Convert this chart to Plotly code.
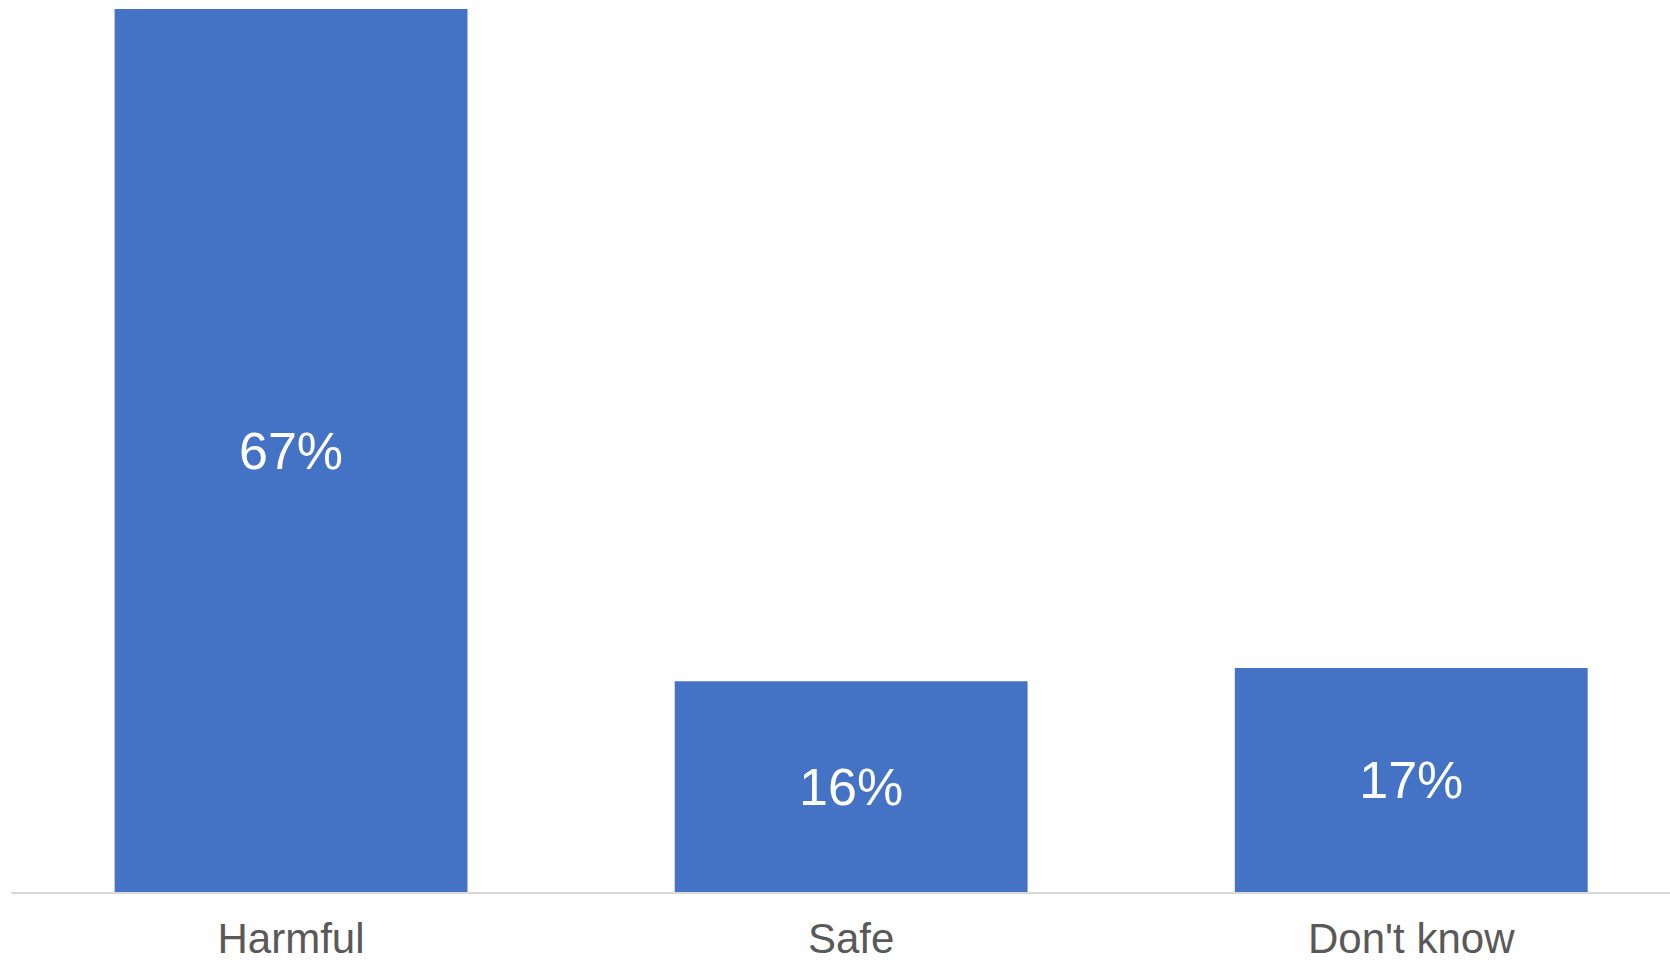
import plotly.graph_objects as go

categories = ["Harmful", "Safe", "Don't know"]
values = [67, 16, 17]
labels = [f"{v}%" for v in values]

fig = go.Figure(
    go.Bar(
        x=categories,
        y=values,
        text=labels,
        textposition="inside",
        insidetextanchor="middle",
        textfont=dict(family="Liberation Sans, Arial, sans-serif", size=52, color="#ffffff"),
        marker=dict(color="#4472C4", line=dict(width=0)),
        cliponaxis=False,
        constraintext="none",
        hoverinfo="skip",
    )
)

fig.update_layout(
    width=1670,
    height=961,
    margin=dict(l=11, r=0, t=9, b=69, pad=0, autoexpand=False),
    paper_bgcolor="#ffffff",
    plot_bgcolor="#ffffff",
    bargap=0.37,
    showlegend=False,
    font=dict(family="Liberation Sans, Arial, sans-serif", color="#595959"),
    xaxis=dict(
        range=[-0.5, 2.462],
        automargin=False,
        showgrid=False,
        showline=True,
        linecolor="#d9d9d9",
        linewidth=2,
        ticks="",
        ticklabelstandoff=9,
        tickfont=dict(size=42, color="#595959"),
        zeroline=False,
    ),
    yaxis=dict(
        range=[0, 67],
        visible=False,
        showgrid=False,
        zeroline=False,
    ),
)

fig.write_html("out.html")
